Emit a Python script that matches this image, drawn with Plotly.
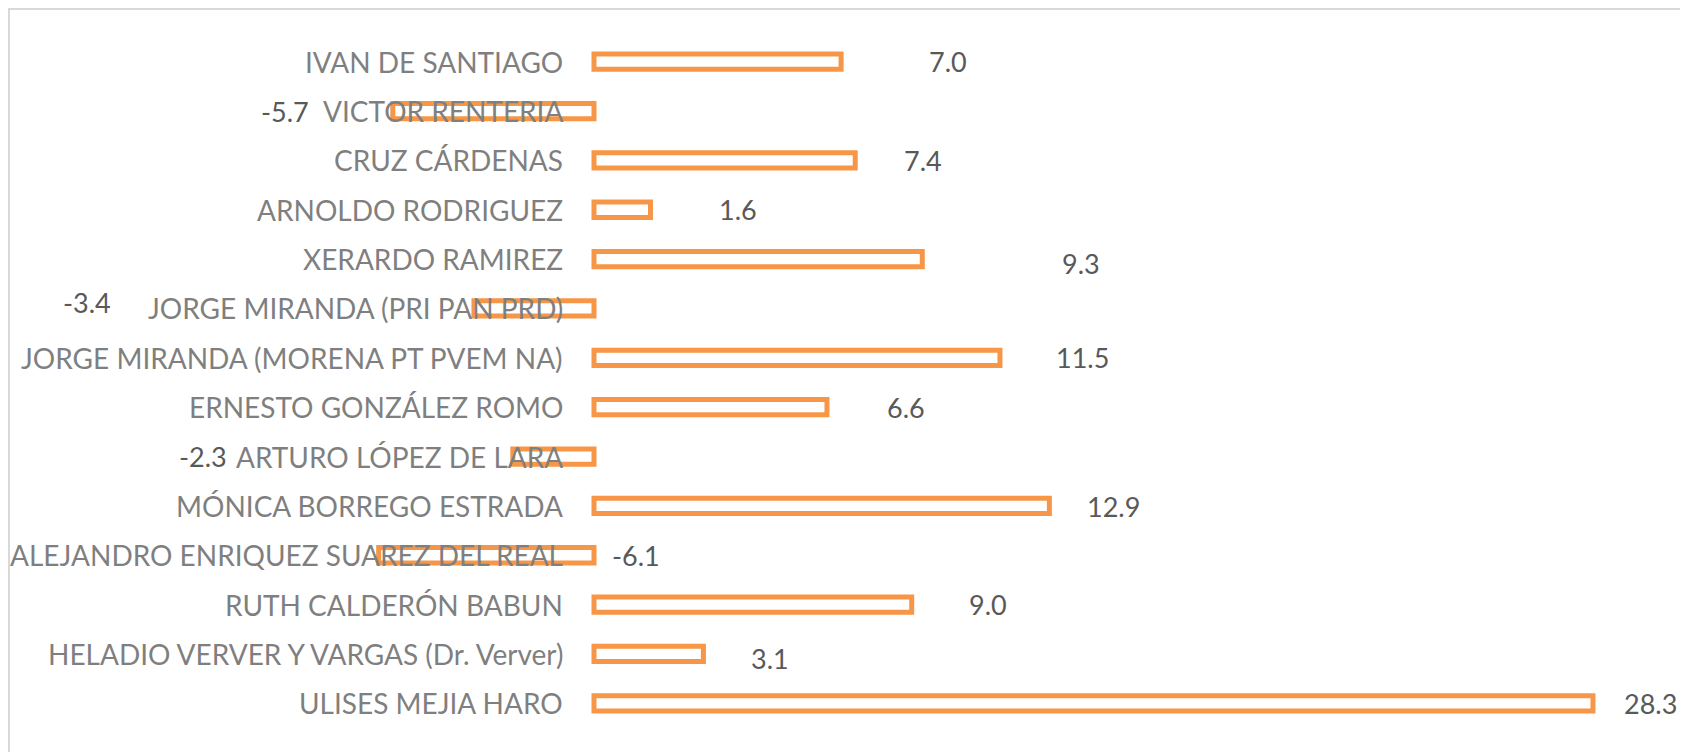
import plotly.graph_objects as go

candidates = [
    "IVAN DE SANTIAGO",
    "VICTOR RENTERIA",
    "CRUZ CÁRDENAS",
    "ARNOLDO RODRIGUEZ",
    "XERARDO RAMIREZ",
    "JORGE MIRANDA (PRI PAN PRD)",
    "JORGE MIRANDA (MORENA PT PVEM NA)",
    "ERNESTO GONZÁLEZ ROMO",
    "ARTURO LÓPEZ DE LARA",
    "MÓNICA BORREGO ESTRADA",
    "ALEJANDRO ENRIQUEZ SUAREZ DEL REAL",
    "RUTH CALDERÓN BABUN",
    "HELADIO VERVER Y VARGAS (Dr. Verver)",
    "ULISES MEJIA HARO",
]
values = [7.0, -5.7, 7.4, 1.6, 9.3, -3.4, 11.5, 6.6, -2.3, 12.9, -6.1, 9.0, 3.1, 28.3]

# label placement (pixel offsets from bar end), as in the reference
label_dx = [107, -108, 68, 88, 159, -387, 83, 79, -310, 64, 257, 76, 67, 58]
label_dy = [0, 0, 0, 0, -4, 6, 0, 0, 0, -1, 0, 0, -5, 0]

ORANGE = "#F79646"
FONT = "Lato"

fig = go.Figure()
fig.add_trace(go.Bar(
    x=values,
    y=candidates,
    orientation="h",
    marker=dict(color="white", line=dict(color=ORANGE, width=5)),
    width=0.31,
    hoverinfo="x+y",
))

annotations = []
for name, v, dx, dy in zip(candidates, values, label_dx, label_dy):
    annotations.append(dict(
        x=0, y=name, xref="x", yref="y", text=name, showarrow=False,
        xanchor="right", yanchor="middle", xshift=-29,
        font=dict(family=FONT, size=28, color="#7F7F7F"),
    ))
    annotations.append(dict(
        x=v, y=name, xref="x", yref="y", text=f"{v:.1f}", showarrow=False,
        xanchor="center", yanchor="middle", xshift=dx, yshift=dy,
        font=dict(family=FONT, size=27, color="#595959"),
    ))

# figure is offset 8px by the page body margin
W, H = 1680, 744
L, R, T, B = 233, 35, 29, 24
pw, ph = W - L - R, H - T - B
x0p = (1 - L) / pw
x1p = (1674 - L) / pw
y1p = (H - B - 1) / ph
y0p = (H - B - 760) / ph

fig.update_layout(
    width=W, height=H,
    margin=dict(l=L, r=R, t=T, b=B),
    paper_bgcolor="white", plot_bgcolor="white",
    showlegend=False,
    xaxis=dict(range=[-10, 30], showgrid=False, zeroline=False,
               showticklabels=False, showline=False, ticks=""),
    yaxis=dict(categoryorder="array", categoryarray=candidates,
               autorange="reversed", showgrid=False, zeroline=False,
               showticklabels=False, showline=False, ticks=""),
    annotations=annotations,
    shapes=[dict(type="rect", xref="paper", yref="paper",
                 x0=x0p, x1=x1p, y0=y0p, y1=y1p,
                 line=dict(color="#D9D9D9", width=2), layer="below")],
)

fig.write_html("out.html")
